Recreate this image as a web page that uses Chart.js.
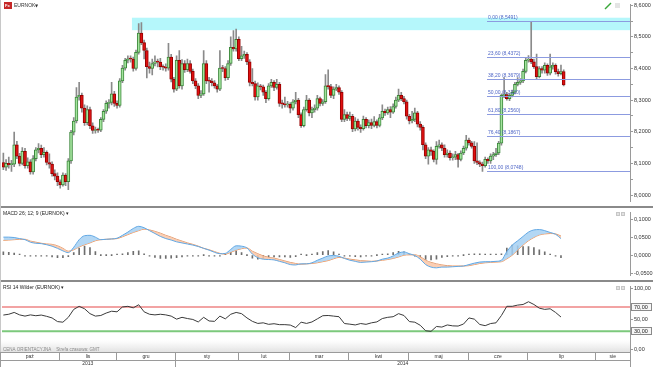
<!DOCTYPE html>
<html>
<head>
<meta charset="utf-8">
<script src="https://cdn.jsdelivr.net/npm/chart.js@4.4.1/dist/chart.umd.min.js"></script>
<style>
html, body { margin: 0; padding: 0; background: #fff; overflow: hidden; }
#wrap { position: relative; width: 653px; height: 367px; background: #fff; }
canvas { position: absolute; left: 0; }
.sep { position: absolute; left: 0; width: 653px; height: 2px; background: #8a8a8a; }
.edge { position: absolute; left: 0; top: 0; width: 1px; height: 352px; background: #c8c8c8; }
</style>
</head>
<body>
<div id="wrap">
  <canvas id="main" width="653" height="206" style="top:0"></canvas>
  <div class="sep" style="top:206px"></div>
  <canvas id="macd" width="653" height="72" style="top:208px"></canvas>
  <div class="sep" style="top:280px"></div>
  <canvas id="rsi" width="653" height="85" style="top:282px"></canvas>
  <div class="edge"></div>
</div>
<script>
// daily EURNOK candles
const slotCount = 232;
const firstOpen = 8.103;
const closes = [
  8.088, 8.100, 8.096, 8.098, 8.159, 8.123, 8.100, 8.138, 8.093, 8.105,
  8.073, 8.115, 8.143, 8.148, 8.128, 8.135, 8.103, 8.098, 8.068, 8.060,
  8.042, 8.032, 8.063, 8.042, 8.108, 8.199, 8.234, 8.310, 8.315, 8.275,
  8.229, 8.270, 8.219, 8.204, 8.207, 8.205, 8.239, 8.265, 8.290, 8.293,
  8.320, 8.290, 8.283, 8.361, 8.401, 8.426, 8.431, 8.430, 8.400, 8.451,
  8.512, 8.482, 8.457, 8.406, 8.400, 8.416, 8.421, 8.420, 8.406, 8.404,
  8.401, 8.436, 8.366, 8.335, 8.426, 8.345, 8.416, 8.396, 8.416, 8.391,
  8.361, 8.345, 8.315, 8.320, 8.416, 8.361, 8.360, 8.355, 8.345, 8.335,
  8.401, 8.400, 8.371, 8.416, 8.467, 8.462, 8.492, 8.431, 8.440, 8.445,
  8.421, 8.356, 8.352, 8.310, 8.345, 8.342, 8.325, 8.305, 8.345, 8.356,
  8.340, 8.350, 8.290, 8.288, 8.285, 8.287, 8.275, 8.295, 8.300, 8.254,
  8.219, 8.270, 8.300, 8.260, 8.270, 8.275, 8.305, 8.290, 8.295, 8.345,
  8.343, 8.315, 8.335, 8.340, 8.325, 8.239, 8.254, 8.242, 8.249, 8.209,
  8.234, 8.214, 8.210, 8.239, 8.219, 8.229, 8.220, 8.232, 8.220, 8.244,
  8.265, 8.260, 8.270, 8.262, 8.280, 8.300, 8.315, 8.305, 8.295, 8.249,
  8.234, 8.239, 8.260, 8.224, 8.214, 8.159, 8.123, 8.143, 8.138, 8.113,
  8.154, 8.159, 8.148, 8.128, 8.133, 8.118, 8.120, 8.128, 8.113, 8.133,
  8.148, 8.174, 8.165, 8.154, 8.108, 8.103, 8.098, 8.093, 8.113, 8.108,
  8.123, 8.128, 8.133, 8.164, 8.315, 8.318, 8.305, 8.315, 8.325, 8.350,
  8.356, 8.361, 8.391, 8.426, 8.430, 8.421, 8.406, 8.374, 8.400, 8.395,
  8.410, 8.385, 8.405, 8.410, 8.390, 8.384, 8.390, 8.348
];
const highs = [
  8.133, 8.112, 8.120, 8.110, 8.199, 8.170, 8.132, 8.150, 8.148, 8.118,
  8.112, 8.125, 8.150, 8.163, 8.158, 8.150, 8.140, 8.130, 8.105, 8.080,
  8.070, 8.048, 8.070, 8.068, 8.115, 8.205, 8.245, 8.340, 8.356, 8.322,
  8.285, 8.282, 8.278, 8.228, 8.215, 8.212, 8.245, 8.270, 8.298, 8.302,
  8.356, 8.328, 8.298, 8.368, 8.410, 8.432, 8.440, 8.440, 8.436, 8.458,
  8.542, 8.545, 8.490, 8.465, 8.420, 8.430, 8.440, 8.430, 8.432, 8.412,
  8.415, 8.480, 8.445, 8.372, 8.440, 8.457, 8.428, 8.425, 8.430, 8.425,
  8.398, 8.368, 8.352, 8.330, 8.457, 8.425, 8.372, 8.368, 8.362, 8.350,
  8.457, 8.410, 8.406, 8.425, 8.500, 8.520, 8.525, 8.500, 8.470, 8.455,
  8.450, 8.428, 8.400, 8.360, 8.355, 8.350, 8.348, 8.330, 8.352, 8.366,
  8.362, 8.366, 8.356, 8.300, 8.310, 8.296, 8.292, 8.302, 8.325, 8.306,
  8.260, 8.278, 8.315, 8.305, 8.278, 8.285, 8.315, 8.310, 8.302, 8.381,
  8.396, 8.350, 8.342, 8.350, 8.345, 8.330, 8.270, 8.262, 8.262, 8.255,
  8.245, 8.240, 8.222, 8.250, 8.245, 8.238, 8.240, 8.248, 8.238, 8.255,
  8.285, 8.272, 8.278, 8.280, 8.288, 8.310, 8.335, 8.325, 8.312, 8.300,
  8.255, 8.265, 8.275, 8.265, 8.232, 8.220, 8.165, 8.150, 8.152, 8.143,
  8.169, 8.174, 8.165, 8.159, 8.143, 8.140, 8.130, 8.138, 8.132, 8.140,
  8.155, 8.189, 8.180, 8.170, 8.169, 8.165, 8.108, 8.104, 8.120, 8.118,
  8.130, 8.135, 8.148, 8.170, 8.320, 8.371, 8.325, 8.320, 8.332, 8.356,
  8.371, 8.368, 8.398, 8.432, 8.441, 8.5491, 8.430, 8.446, 8.406, 8.406,
  8.418, 8.415, 8.446, 8.418, 8.415, 8.398, 8.411, 8.396
];
const lows = [
  8.080, 8.078, 8.085, 8.075, 8.090, 8.115, 8.092, 8.095, 8.085, 8.085,
  8.066, 8.066, 8.108, 8.133, 8.118, 8.120, 8.095, 8.085, 8.060, 8.048,
  8.030, 8.022, 8.028, 8.030, 8.017, 8.100, 8.190, 8.228, 8.300, 8.262,
  8.220, 8.222, 8.210, 8.195, 8.196, 8.198, 8.200, 8.232, 8.258, 8.275,
  8.285, 8.280, 8.275, 8.278, 8.355, 8.395, 8.418, 8.420, 8.392, 8.395,
  8.445, 8.475, 8.430, 8.370, 8.385, 8.380, 8.408, 8.405, 8.396, 8.395,
  8.392, 8.395, 8.358, 8.325, 8.330, 8.338, 8.335, 8.388, 8.390, 8.385,
  8.352, 8.336, 8.305, 8.308, 8.315, 8.352, 8.325, 8.345, 8.338, 8.325,
  8.330, 8.390, 8.362, 8.365, 8.410, 8.455, 8.455, 8.425, 8.425, 8.432,
  8.412, 8.345, 8.345, 8.300, 8.300, 8.332, 8.315, 8.292, 8.300, 8.340,
  8.330, 8.335, 8.280, 8.275, 8.278, 8.278, 8.260, 8.268, 8.288, 8.245,
  8.214, 8.215, 8.265, 8.250, 8.245, 8.262, 8.268, 8.282, 8.283, 8.290,
  8.335, 8.308, 8.305, 8.330, 8.318, 8.232, 8.232, 8.235, 8.236, 8.200,
  8.203, 8.205, 8.198, 8.205, 8.212, 8.212, 8.210, 8.215, 8.212, 8.215,
  8.238, 8.252, 8.255, 8.245, 8.258, 8.275, 8.295, 8.298, 8.288, 8.240,
  8.225, 8.228, 8.232, 8.215, 8.205, 8.143, 8.115, 8.098, 8.125, 8.105,
  8.098, 8.148, 8.140, 8.120, 8.120, 8.110, 8.110, 8.112, 8.088, 8.108,
  8.128, 8.142, 8.158, 8.148, 8.100, 8.096, 8.090, 8.0748, 8.088, 8.100,
  8.100, 8.112, 8.122, 8.128, 8.158, 8.308, 8.300, 8.298, 8.310, 8.320,
  8.345, 8.350, 8.355, 8.386, 8.420, 8.415, 8.400, 8.368, 8.370, 8.385,
  8.385, 8.378, 8.380, 8.398, 8.382, 8.376, 8.380, 8.345
];

// indicators, one reading every second candle
const indicatorStep = 2;
const macdLine = [
  .050, .050, .049, .046, .043, .036, .033, .032, .029, .025,
  .019, .012, .007, .022, .043, .054, .055, .050, .043, .044,
  .045, .047, .055, .064, .074, .080, .076, .068, .060, .052,
  .046, .042, .037, .034, .031, .028, .024, .019, .014, .008,
  .004, .005, .016, .026, .025, .020, .003, -.007, -.011, -.012,
  -.013, -.017, -.021, -.026, -.027, -.024, -.024, -.021, -.014, -.008,
  -.002, -.001, -.003, -.009, -.014, -.017, -.020, -.019, -.018, -.016,
  -.011, -.008, -.002, .006, .009, .004, -.001, -.011, -.026, -.033,
  -.035, -.033, -.033, -.032, -.031, -.030, -.026, -.022, -.019, -.018,
  -.018, -.017, -.014, .010, .028, .040, .052, .064, .070, .071,
  .068, .063, .058, .046
];
const signalLine = [
  .041, .042, .043, .044, .044, .039, .036, .033, .031, .030,
  .026, .019, .011, .015, .023, .029, .034, .040, .043, .044,
  .045, .046, .051, .057, .063, .068, .072, .070, .066, .061,
  .055, .050, .044, .039, .034, .030, .025, .019, .015, .010,
  .005, .003, .008, .014, .018, .020, .011, .004, -.002, -.006,
  -.008, -.012, -.016, -.020, -.023, -.025, -.024, -.023, -.021, -.018,
  -.015, -.010, -.006, -.008, -.011, -.013, -.015, -.016, -.017, -.016,
  -.014, -.012, -.009, -.005, .000, .001, .001, -.004, -.014, -.020,
  -.024, -.027, -.029, -.030, -.030, -.030, -.029, -.026, -.023, -.021,
  -.020, -.019, -.018, -.010, .000, .014, .028, .040, .049, .056,
  .059, .060, .059, .053
];
const macdHist = [
  .009, .008, .006, .002, -.001, -.003, -.003, -.001, -.002, -.005,
  -.007, -.007, -.004, .007, .020, .025, .021, .010, .000, .000,
  .000, .001, .004, .007, .011, .012, .004, -.002, -.006, -.009,
  -.009, -.008, -.007, -.005, -.003, -.002, -.001, .000, -.001, -.002,
  -.001, .002, .008, .012, .007, .000, -.008, -.011, -.009, -.006,
  -.005, -.005, -.005, -.006, -.004, .001, .000, .002, .007, .010,
  .013, .009, .003, -.001, -.003, -.004, -.005, -.003, -.001, .000,
  .003, .004, .007, .011, .009, .003, -.002, -.007, -.012, -.013,
  -.011, -.006, -.004, -.002, -.001, .000, .003, .004, .004, .003,
  .002, .002, .004, .020, .028, .026, .024, .024, .021, .015,
  .009, .003, -.001, -.007
];
const rsiLine = [
  56.7, 58, 61, 57, 55, 57, 55.6, 56.7, 54.6, 52,
  46, 45, 53, 66, 71, 67, 59, 55, 56, 60,
  63, 62, 70, 71, 68.5, 73.6, 62, 58, 57, 58,
  57, 55, 50, 53, 51, 49.5, 45.4, 53, 47, 46.4,
  55, 50.5, 58, 61, 59, 52, 46.4, 43, 44, 41.5,
  42.5, 41, 41, 40.3, 36.2, 45, 43, 45.4, 50.5, 55.6,
  56, 55, 54, 42.8, 41.8, 40.5, 42.8, 41.5, 44, 45.5,
  51, 53, 54, 59, 56, 46, 45, 40, 31, 30,
  38, 37, 40.5, 39, 38.7, 42, 52, 50, 41.3, 39.3,
  42.8, 44, 56, 71, 71, 73, 74, 78.5, 74, 68,
  66, 67, 61, 53.5
];

// drawings on the price panel
const bandStartIdx = 48;
const bandRange = [8.5212, 8.5606];
const fibStartIdx = 179;
const fibPct = [0, 23.6, 38.2, 50, 61.8, 76.4, 100];
const fibVal = [8.5491, 8.4372, 8.3679, 8.3120, 8.2560, 8.1867, 8.0748];

const rsiLevels = [70, 30];
const rsiTicks = [100, 70, 50, 30, 0];

const monthNames = ['paź', 'lis', 'gru', 'sty', 'lut', 'mar', 'kwi', 'maj', 'cze', 'lip', 'sie'];
const monthStartIdx = [0, 21, 42, 64, 87, 106, 128, 150, 172, 194, 219];
const yearNames = ['2013', '2014'];
const yearStartIdx = [0, 64];

const FONT = '"Liberation Sans", Arial, sans-serif';
Chart.defaults.font.family = FONT;
const fmt = (v, d) => v.toFixed(d).replace('.', ',');

function yAxis(min, max, extra) {
  return Object.assign({
    position: 'right', min, max,
    afterFit: s => { s.width = 23; },
    border: { display: true, color: '#9a9a9a' },
    grid: { drawOnChartArea: false, drawTicks: true, tickLength: 3, color: '#9a9a9a' },
    ticks: { includeBounds: false, autoSkip: false, padding: 1, color: '#333', font: { size: 5.5 } }
  }, extra);
}

function baseOptions(y, padBottom) {
  return {
    responsive: false, animation: false, devicePixelRatio: 1, events: [],
    layout: { padding: { left: 2, right: 0, top: 0, bottom: padBottom }, autoPadding: false },
    plugins: { legend: { display: false }, tooltip: { enabled: false } },
    scales: {
      x: { type: 'linear', min: -0.5, max: slotCount - 0.5, offset: false, display: false },
      y
    }
  };
}

function title(ctx, text) {
  ctx.fillStyle = '#222';
  ctx.font = '5px ' + FONT;
  ctx.textBaseline = 'middle';
  ctx.fillText(text, 3, 6);
}

function panelIcons(ctx, y) {
  ctx.fillStyle = '#e2e2e2';
  ctx.strokeStyle = '#c6c6c6';
  ctx.lineWidth = 1;
  [616, 621].forEach(px => { ctx.fillRect(px, y, 4, 4); ctx.strokeRect(px + 0.5, y + 0.5, 3, 3); });
}

// ---------- price panel ----------
const opens = closes.map((c, i) => i ? closes[i - 1] : firstOpen);
const up = closes.map((c, i) => c >= opens[i]);

const mainDecor = {
  id: 'mainDecor',
  beforeDatasetsDraw(chart) {
    const { ctx, chartArea: a, scales: { x, y } } = chart;
    ctx.save();
    const bx = x.getPixelForValue(bandStartIdx - 0.5);
    const top = y.getPixelForValue(bandRange[1]);
    const bot = y.getPixelForValue(bandRange[0]);
    ctx.fillStyle = '#b5f7fb';
    ctx.fillRect(bx, top, a.right - bx, bot - top);
    ctx.restore();
  },
  afterDatasetsDraw(chart) {
    const { ctx, chartArea: a, scales: { x, y } } = chart;
    ctx.save();
    const fx = Math.round(x.getPixelForValue(fibStartIdx - 0.5));
    ctx.font = '5px ' + FONT;
    ctx.textBaseline = 'bottom';
    fibVal.forEach((v, k) => {
      const py = Math.round(y.getPixelForValue(v)) + 0.5;
      ctx.strokeStyle = '#8c9be0';
      ctx.lineWidth = 1;
      ctx.beginPath(); ctx.moveTo(fx, py); ctx.lineTo(a.right, py); ctx.stroke();
      ctx.fillStyle = '#4f66c6';
      ctx.fillText(fmt(fibPct[k], 2) + ' (' + fmt(v, 4) + ')', fx + 1, py - 1);
    });
    ctx.restore();
  },
  afterDraw(chart) {
    const { ctx } = chart;
    ctx.save();
    ctx.fillStyle = '#c62828';
    ctx.fillRect(4, 2, 8, 7);
    ctx.fillStyle = '#fff';
    ctx.font = 'bold 4px ' + FONT;
    ctx.textBaseline = 'middle';
    ctx.fillText('Fx', 5, 5.5);
    ctx.fillStyle = '#333';
    ctx.font = '5px ' + FONT;
    ctx.fillText('EURNOK', 14, 5.5);
    ctx.font = '4px "DejaVu Sans"';
    ctx.fillText('▼', 35, 5.5);
    ctx.strokeStyle = '#3aa83a';
    ctx.lineWidth = 1.5;
    ctx.beginPath(); ctx.moveTo(605, 9); ctx.lineTo(611, 3); ctx.stroke();
    ctx.fillStyle = '#e4e4e4';
    ctx.fillRect(615, 3, 5, 5);
    ctx.restore();
  }
};

new Chart(document.getElementById('main'), {
  type: 'bar',
  data: {
    datasets: [
      {
        data: closes.map((c, i) => ({ x: i, y: [lows[i], highs[i]] })),
        backgroundColor: '#8a8a8a', barThickness: 1, grouped: false, order: 2
      },
      {
        data: closes.map((c, i) => ({ x: i, y: [opens[i], c] })),
        backgroundColor: up.map(u => u ? '#a3e49d' : '#e01010'),
        borderColor: up.map(u => u ? '#3b873b' : '#960000'),
        borderWidth: 1, borderSkipped: false, barThickness: 3, minBarLength: 1,
        grouped: false, order: 1
      }
    ]
  },
  options: baseOptions(yAxis(7.979, 8.603, {
    ticks: {
      stepSize: 0.05, includeBounds: false, autoSkip: false, padding: 1, color: '#333', font: { size: 5.5 },
      callback: v => Math.round(v * 100) % 10 === 0 ? fmt(v, 4) : ''
    }
  }), 0),
  plugins: [mainDecor]
});

// ---------- MACD panel ----------
const pts = arr => arr.map((v, k) => ({ x: k * indicatorStep, y: v }));

const macdDecor = {
  id: 'macdDecor',
  afterDraw(chart) {
    const { ctx } = chart;
    ctx.save();
    title(ctx, 'MACD 26; 12; 9 (EURNOK) ▾');
    panelIcons(ctx, 4);
    ctx.restore();
  }
};

new Chart(document.getElementById('macd'), {
  type: 'line',
  data: {
    datasets: [
      {
        data: pts(macdLine), borderColor: '#62a8e4', borderWidth: 1, pointRadius: 0,
        cubicInterpolationMode: 'monotone',
        fill: { target: 1, above: 'rgba(166,208,242,0.85)', below: 'rgba(250,198,166,0.85)' }, order: 1
      },
      {
        data: pts(signalLine), borderColor: '#ee9358', borderWidth: 1, pointRadius: 0,
        cubicInterpolationMode: 'monotone', fill: false, order: 1
      },
      {
        type: 'bar', data: pts(macdHist), backgroundColor: '#6e6e6e',
        barThickness: 1, minBarLength: 1, order: 2
      }
    ]
  },
  options: baseOptions(yAxis(-0.0568, 0.1188, {
    ticks: {
      stepSize: 0.05, includeBounds: false, autoSkip: false, padding: 1, color: '#333', font: { size: 5.5 },
      callback: v => fmt(v, 4)
    }
  }), 0),
  plugins: [macdDecor]
});

// ---------- RSI panel + time axis ----------
const rsiDecor = {
  id: 'rsiDecor',
  beforeDatasetsDraw(chart) {
    const { ctx, chartArea: a, scales: { y } } = chart;
    ctx.save();
    const g = ctx.createLinearGradient(0, a.bottom - 12, 0, a.bottom);
    g.addColorStop(0, 'rgba(232,232,232,0)');
    g.addColorStop(1, 'rgba(226,226,226,1)');
    ctx.fillStyle = g;
    ctx.fillRect(0, a.bottom - 12, a.right, 12);
    rsiLevels.forEach((v, k) => {
      const py = y.getPixelForValue(v);
      ctx.strokeStyle = k ? '#7cc97c' : '#f2a3a3';
      ctx.lineWidth = 2;
      ctx.beginPath(); ctx.moveTo(a.left, py); ctx.lineTo(a.right, py); ctx.stroke();
    });
    ctx.fillStyle = '#8a8a8a';
    ctx.font = '4.5px ' + FONT;
    ctx.textBaseline = 'bottom';
    ctx.fillText('CENA ORIENTACYJNA    Strefa czasowa: GMT', 3, a.bottom);
    ctx.restore();
  },
  afterDraw(chart) {
    const { ctx, chartArea: a, scales: { x, y } } = chart;
    ctx.save();
    title(ctx, 'RSI 14 Wilder (EURNOK) ▾');
    panelIcons(ctx, 4);

    // boxed level labels on the axis
    ctx.font = '5.5px ' + FONT;
    ctx.textBaseline = 'middle';
    rsiLevels.forEach(v => {
      const py = Math.round(y.getPixelForValue(v));
      ctx.fillStyle = '#f6f6f6';
      ctx.fillRect(631, py - 4, 21, 8);
      ctx.strokeStyle = '#8a8a8a';
      ctx.lineWidth = 1;
      ctx.strokeRect(631.5, py - 3.5, 20, 7);
      ctx.fillStyle = '#222';
      ctx.fillText(fmt(v, 2), 634, py);
    });

    // month / year rows
    const top = a.bottom, mid = a.bottom + 8, bot = chart.height;
    const edge = idx => Math.round(x.getPixelForValue(idx - 0.5)) + 0.5;
    ctx.fillStyle = '#fff';
    ctx.fillRect(0, top, a.right, bot - top);
    ctx.strokeStyle = '#9a9a9a';
    ctx.lineWidth = 1;
    ctx.beginPath();
    ctx.moveTo(0, top + 0.5); ctx.lineTo(a.right, top + 0.5);
    ctx.moveTo(0, mid + 0.5); ctx.lineTo(a.right, mid + 0.5);
    ctx.moveTo(0.5, top); ctx.lineTo(0.5, bot);
    ctx.moveTo(a.right + 0.5, top); ctx.lineTo(a.right + 0.5, bot);
    monthStartIdx.forEach((s, k) => { if (k) { const px = edge(s); ctx.moveTo(px, top); ctx.lineTo(px, mid); } });
    yearStartIdx.forEach((s, k) => { if (k) { const px = edge(s); ctx.moveTo(px, mid); ctx.lineTo(px, bot); } });
    ctx.stroke();

    ctx.fillStyle = '#333';
    ctx.font = '5px ' + FONT;
    ctx.textAlign = 'center';
    ctx.textBaseline = 'middle';
    monthNames.forEach((m, k) => {
      const l = k ? edge(monthStartIdx[k]) : 0;
      const r = k < monthNames.length - 1 ? edge(monthStartIdx[k + 1]) : a.right;
      ctx.fillText(m, (l + r) / 2, (top + mid) / 2 + 0.5);
    });
    yearNames.forEach((t, k) => {
      const l = k ? edge(yearStartIdx[k]) : 0;
      const r = k < yearNames.length - 1 ? edge(yearStartIdx[k + 1]) : a.right;
      ctx.fillText(t, (l + r) / 2, (mid + bot) / 2 + 0.5);
    });
    ctx.restore();
  }
};

new Chart(document.getElementById('rsi'), {
  type: 'line',
  data: {
    datasets: [{
      data: pts(rsiLine), borderColor: '#3a3a3a', borderWidth: 1, pointRadius: 0, tension: 0, fill: false
    }]
  },
  options: baseOptions(yAxis(-3.8, 103.8, {
    afterBuildTicks: s => { s.ticks = rsiTicks.map(v => ({ value: v })); },
    ticks: {
      autoSkip: false, padding: 1, color: '#333', font: { size: 5.5 },
      callback: v => fmt(v, 2)
    }
  }), 15),
  plugins: [rsiDecor]
});
</script>
</body>
</html>
